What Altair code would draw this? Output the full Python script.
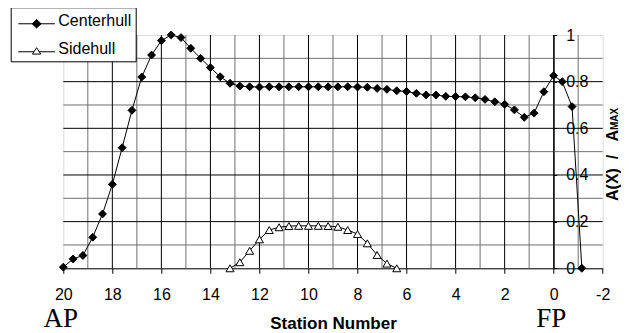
import altair as alt
import pandas as pd

series_names = ["Centerhull", "Sidehull"]

center_station = [20.0, 19.6, 19.2, 18.8, 18.4, 18.0, 17.6, 17.2, 16.8, 16.4, 16.0, 15.6,
                  15.2, 14.8, 14.4, 14.0, 13.6, 13.2, 12.8, 12.4, 12.0, 11.6, 11.2, 10.8,
                  10.4, 10.0, 9.6, 9.2, 8.8, 8.4, 8.0, 7.6, 7.2, 6.8, 6.4, 6.0, 5.6, 5.2,
                  4.8, 4.4, 4.0, 3.6, 3.2, 2.8, 2.4, 2.0, 1.6, 1.2, 0.8, 0.4, 0.0, -0.35,
                  -0.75, -1.15]
center_area = [0.005, 0.04, 0.055, 0.133, 0.233, 0.36, 0.517, 0.677, 0.82, 0.914, 0.976, 1.0,
               0.989, 0.943, 0.90, 0.86, 0.821, 0.793, 0.781, 0.778, 0.777, 0.778, 0.778, 0.778,
               0.778, 0.778, 0.778, 0.778, 0.778, 0.778, 0.777, 0.776, 0.771, 0.767, 0.761, 0.758,
               0.75, 0.743, 0.743, 0.737, 0.736, 0.735, 0.731, 0.724, 0.714, 0.703, 0.679, 0.647,
               0.665, 0.757, 0.826, 0.80, 0.693, 0.0]

side_station = [13.2, 12.8, 12.4, 12.0, 11.6, 11.2, 10.8, 10.4, 10.0, 9.6, 9.2, 8.8, 8.4,
                8.0, 7.6, 7.2, 6.8, 6.4]
side_area = [0.0, 0.026, 0.075, 0.124, 0.164, 0.176, 0.181, 0.182, 0.182, 0.182, 0.181,
             0.178, 0.164, 0.147, 0.107, 0.057, 0.02, 0.0]

x_ticks = [20, 18, 16, 14, 12, 10, 8, 6, 4, 2, 0, -2]
x_major_grid = [18, 16, 14, 12, 10, 8, 6, 4, 2, 0]
x_minor_grid = [19, 17, 15, 13, 11, 9, 7, 5, 3, 1, -1]
y_ticks = [0, 0.1, 0.2, 0.3, 0.4, 0.5, 0.6, 0.7, 0.8, 0.9, 1.0]
y_major_grid = [0.2, 0.4, 0.6, 0.8]
y_minor_grid = [0.1, 0.3, 0.5, 0.7, 0.9]

end_labels = ["AP", "FP"]
end_stations = [20, 0]

df = pd.concat([
    pd.DataFrame({"station": center_station, "area": center_area, "series": series_names[0]}),
    pd.DataFrame({"station": side_station, "area": side_area, "series": series_names[1]}),
], ignore_index=True)

W, H = 539.4, 233.3
FONT = "Liberation Sans"

xscale = alt.Scale(domain=[-2, 20], reverse=True, nice=False, zero=False)
yscale = alt.Scale(domain=[0, 1], nice=False, zero=False)

x_enc = alt.X(
    "station:Q", scale=xscale,
    axis=alt.Axis(
        values=x_ticks,
        labelExpr="'' + datum.value",
        labelOverlap=False, labelFlush=False,
        labelFont=FONT, labelFontSize=16, labelColor="black",
        labelBaseline="alphabetic", labelPadding=26.5,
        tickSize=5, tickWidth=1, tickColor="black",
        grid=False,
        domainColor="black", domainWidth=1,
        title="Station Number", titleFont=FONT, titleFontSize=17, titleFontWeight="bold",
        titleColor="black", titleBaseline="alphabetic", titleY=60,
    ),
)

y_enc = alt.Y(
    "area:Q", scale=yscale,
    axis=alt.Axis(
        orient="right", offset=-(W * 2 / 22),
        values=y_ticks,
        labelExpr="round(datum.value * 10) % 2 === 0 ? format(datum.value, '~g') : ''",
        labelOverlap=False, labelFlush=False,
        labelFont=FONT, labelFontSize=16, labelColor="black", labelPadding=9,
        tickSize=3, tickColor="black", tickWidth=1,
        grid=False,
        domainColor="black", domainWidth=1,
        title=None,
    ),
)

MINOR = "#707070"
minor_x = alt.Chart(pd.DataFrame({"station": x_minor_grid})).mark_rule(
    stroke=MINOR, strokeWidth=1).encode(x="station:Q")
minor_y = alt.Chart(pd.DataFrame({"area": y_minor_grid})).mark_rule(
    stroke=MINOR, strokeWidth=1).encode(y="area:Q")
major_x = alt.Chart(pd.DataFrame({"station": x_major_grid})).mark_rule(
    stroke="black", strokeWidth=1).encode(x="station:Q")
major_y = alt.Chart(pd.DataFrame({"area": y_major_grid})).mark_rule(
    stroke="black", strokeWidth=1).encode(y="area:Q")

lines = alt.Chart(df).mark_line(color="black", strokeWidth=1).encode(
    x=x_enc, y=y_enc, detail="series:N"
)

center_pts = alt.Chart(df).transform_filter(
    alt.datum.series == series_names[0]
).mark_point(shape="diamond", filled=True, fill="black", stroke="black",
             strokeWidth=1, size=62, opacity=1).encode(x="station:Q", y="area:Q")

side_pts = alt.Chart(df).transform_filter(
    alt.datum.series == series_names[1]
).mark_point(shape="triangle-up", filled=True, fill="white", stroke="black",
             strokeWidth=1, size=64, opacity=1).encode(x="station:Q", y="area:Q")

path_c = "M-0.7,0.27L3.3,0.27M1.3,-0.19L1.79,0.27L1.3,0.73L0.81,0.27Z"
path_s = "M-0.7,0.27L1.01,0.27M1.59,0.27L3.3,0.27M1.3,-0.17L1.75,0.52L0.85,0.52Z"

leg = dict(orient="none", legendX=-52.6, legendY=-27.7, padding=4,
           strokeColor="black", fillColor="white", rowPadding=9,
           labelOffset=23.6, labelFont=FONT, labelFontSize=16, labelColor="black",
           title=None, symbolSize=336, symbolStrokeWidth=1, symbolStrokeColor="black",
           symbolOffset=0, cornerRadius=0)

legend_layer = alt.Chart(pd.DataFrame({"series": series_names})).transform_filter(
    "false"
).mark_point(filled=True, strokeWidth=1, size=336, opacity=1).encode(
    shape=alt.Shape("series:N", scale=alt.Scale(domain=series_names, range=[path_c, path_s]),
                    legend=alt.Legend(**leg)),
    fill=alt.Fill("series:N", scale=alt.Scale(domain=series_names, range=["black", "white"]),
                  legend=alt.Legend(**leg)),
    stroke=alt.Stroke("series:N", scale=alt.Scale(domain=series_names, range=["black", "black"]),
                      legend=alt.Legend(**leg)),
)

ends = alt.Chart(pd.DataFrame({"station": end_stations, "label": end_labels})).mark_text(
    font="Liberation Serif", fontSize=27, baseline="alphabetic", align="center",
    dx=-2.5, color="black"
).encode(x="station:Q", y=alt.value(291.5), text="label:N")

one = pd.DataFrame({"k": [0]})
ytitle_main = alt.Chart(one).mark_text(
    angle=270, align="left", baseline="alphabetic", font=FONT, fontSize=16,
    fontWeight="bold", color="black"
).encode(x=alt.value(554.2), y=alt.value(166),
         text=alt.value("A(X)\u00a0\u00a0/\u00a0\u00a0\u00a0A"))
ytitle_sub = alt.Chart(one).mark_text(
    angle=270, align="left", baseline="alphabetic", font=FONT, fontSize=10,
    fontWeight="bold", color="black"
).encode(x=alt.value(554.2), y=alt.value(166 - 71), text=alt.value("MAX"))

chart = alt.layer(minor_x, minor_y, major_x, major_y, lines, center_pts, side_pts,
                  legend_layer, ends, ytitle_main, ytitle_sub).properties(
    width=W, height=H,
    autosize=alt.AutoSizeParams(type="none"),
    padding={"left": 55.3, "top": 27, "right": 18.3, "bottom": 64.7},
).configure_view(stroke="#808080", strokeWidth=1).configure(font=FONT)

chart.save("out.html", embed_options={"renderer": "svg", "actions": False})
